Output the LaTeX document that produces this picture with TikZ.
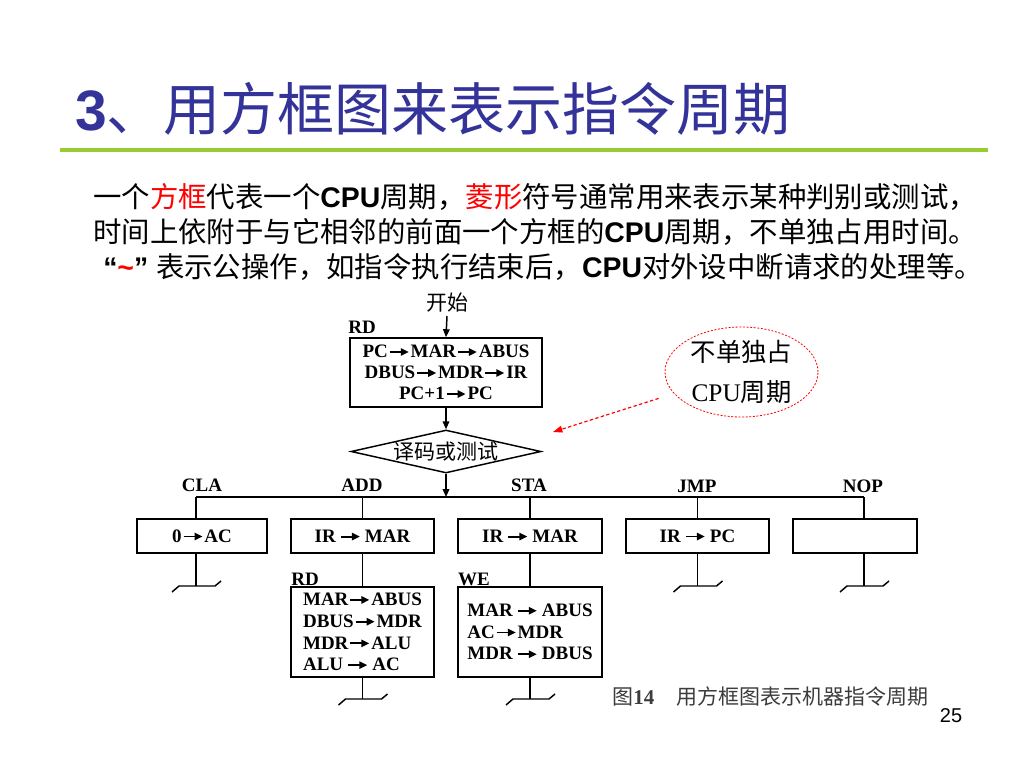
\documentclass[tikz,border=0pt]{standalone}
\usepackage{fontspec}
\setmainfont{Noto Sans CJK SC}
\newfontfamily\lat{Liberation Sans}
\newfontfamily\ser{Liberation Serif}
\usetikzlibrary{arrows.meta,shapes.geometric}
\definecolor{titleblue}{RGB}{51,51,153}
\definecolor{rulegreen}{RGB}{153,204,51}
\definecolor{capgray}{RGB}{60,60,60}
\newcommand\arr{\kern0.05em\tikz[x=1cm,y=1cm,baseline=-0.3em]\draw[line width=0.1em,-{Triangle[length=0.42em,width=0.38em]}] (0pt,0pt)--(1.0em,0pt);\kern0.05em}
\tikzset{
  ln/.style={line width=1.1pt},
  arrowln/.style={line width=1.1pt,-{Triangle[length=6pt,width=5pt]}},
  box/.style={draw,line width=1.2pt,inner sep=0pt,font=\ser\bfseries\fontsize{14.25pt}{15.75pt}\selectfont},
  box2/.style={draw,line width=1.2pt,inner sep=0pt,align=left,font=\ser\bfseries\fontsize{14.25pt}{16.3pt}\selectfont},
  lab/.style={inner sep=0pt,font=\ser\bfseries\fontsize{14.25pt}{16pt}\selectfont},
  cjk/.style={inner sep=0pt,font=\fontsize{15.75pt}{18pt}\selectfont},
  body/.style={anchor=west,inner sep=0pt,font=\fontsize{21.3pt}{26pt}\selectfont},
  term/.pic={\draw[line width=1.1pt] (-24,6)--(-17,0)--(19,0)--(25,-5);},
}
\begin{document}
\begin{tikzpicture}[x=0.75pt,y=-0.75pt]
\useasboundingbox (0,0) rectangle (1024,768);
\fill[white] (0,0) rectangle (1024,768);
% title
\node[anchor=west,inner sep=0pt,text=titleblue,font=\fontsize{42.75pt}{50pt}\selectfont] (title) at (75,109) {{\lat\bfseries 3}、用方框图来表示指令周期};
\draw[rulegreen,line width=2.5pt] (60,150) -- (988,150);
% body text
\node[body] (l1) at (93,197) {一个\textcolor{red}{方框}代表一个{\lat\bfseries CPU}周期，\textcolor{red}{菱形}符号通常用来表示某种判别或测试，};
\node[body] (l2) at (93,232) {时间上依附于与它相邻的前面一个方框的{\lat\bfseries CPU}周期，不单独占用时间。};
\node[body] (l3) at (103,267) {{\lat\bfseries “\textcolor{red}{\char"7E}” }表示公操作，如指令执行结束后，{\lat\bfseries CPU}对外设中断请求的处理等。};
% flow
\node[cjk] (start) at (447,303) {开始};
\node[lab] (lrd) at (362,327) {RD};
\node[box,minimum width=144pt,minimum height=51.75pt,align=center] (rd) at (446,372.5) {PC\arr MAR\arr ABUS\\DBUS\arr MDR\arr IR\\PC+1\arr PC};
\draw[arrowln] (start.south |- 0,316) -- (rd.north);
\node[diamond,draw,line width=1.1pt,aspect=4.4,inner sep=-1pt,minimum width=142.5pt,minimum height=32.25pt,font=\fontsize{15.75pt}{18pt}\selectfont] (dec) at (446,451.5) {译码或测试};
\draw[arrowln] (rd.south) -- (dec.north);
\coordinate (bus) at (446,497);
\coordinate (b1) at (196,497);
\coordinate (b2) at (362.5,497);
\coordinate (b3) at (530,497);
\coordinate (b4) at (697.5,497);
\coordinate (b5) at (864,497);
\draw[arrowln] (dec.south) -- (bus);
\draw[ln] (b1) -- (b5);
% labels
\node[lab] (lcla) at (202,485) {CLA};
\node[lab] (ladd) at (362,485) {ADD};
\node[lab] (lsta) at (529,485) {STA};
\node[lab] (ljmp) at (697,486) {JMP};
\node[lab] (lnop) at (863,486) {NOP};
% row 1 boxes
\node[box,minimum width=97.5pt,minimum height=25.5pt] (cla) at (202,536) {0\arr AC};
\node[box,minimum width=107.25pt,minimum height=25.5pt] (addb) at (362.5,536) {IR\,\arr\,MAR};
\node[box,minimum width=108pt,minimum height=25.5pt] (stab) at (530,536) {IR\,\arr\,MAR};
\node[box,minimum width=107.25pt,minimum height=25.5pt] (jmpb) at (697.5,536) {IR\,\arr\,PC};
\node[box,minimum width=93pt,minimum height=25.5pt] (nopb) at (855,536) {};
\draw[ln] (b1) -- (b1 |- cla.north);
\draw[ln] (b2) -- (addb.north);
\draw[ln] (b3) -- (stab.north);
\draw[ln] (b4) -- (jmpb.north);
\draw[ln] (b5) -- (b5 |- nopb.north);
% row 2
\node[lab] (lrd2) at (305,579) {RD};
\node[lab] (lwe) at (474,579) {WE};
\node[box2,minimum width=107.25pt,minimum height=67.5pt] (rdb) at (362.5,632) {MAR\arr ABUS\\DBUS\arr MDR\\MDR\arr ALU\\ALU\,\arr\,AC};
\node[box2,minimum width=108pt,minimum height=67.5pt] (web) at (530,632) {MAR\,\arr\,ABUS\\AC\arr MDR\\MDR\,\arr\,DBUS};
\draw[ln] (addb.south) -- (rdb.north);
\draw[ln] (stab.south) -- (web.north);
% terminals
\coordinate (t1) at (196,586);
\coordinate (t2) at (362.5,699);
\coordinate (t3) at (530,699);
\coordinate (t4) at (697.5,586);
\coordinate (t5) at (864,586);
\draw[ln] (t1 |- cla.south) -- (t1);
\draw[ln] (rdb.south) -- (t2);
\draw[ln] (web.south) -- (t3);
\draw[ln] (jmpb.south) -- (t4);
\draw[ln] (t5 |- nopb.south) -- (t5);
\pic at (t1) {term};
\pic at (t2) {term};
\pic at (t3) {term};
\pic at (t4) {term};
\pic at (t5) {term};
% bubble
\node[ellipse,draw=red,line width=0.6pt,dash pattern=on 1.5pt off 1.2pt,minimum width=114.75pt,minimum height=67.5pt,inner sep=0pt,align=center,font=\fontsize{19pt}{30pt}\selectfont] (bub) at (741.5,372) {不单独占\\{\ser CPU}周期};
\coordinate (rtip) at (553,432);
\draw[red,line width=0.9pt,dash pattern=on 2.5pt off 1.8pt,-{Triangle[length=7pt,width=5pt]},shorten <=12pt] (bub) -- (rtip);
% caption
\node[anchor=west,inner sep=0pt,text=capgray,font=\fontsize{15.75pt}{18pt}\selectfont] (cap) at (612,697) {图{\ser\bfseries 14}\hspace{17pt}用方框图表示机器指令周期};
\node[inner sep=0pt,font=\lat\fontsize{15pt}{18pt}\selectfont] (pg) at (951,716) {25};
\end{tikzpicture}
\end{document}
